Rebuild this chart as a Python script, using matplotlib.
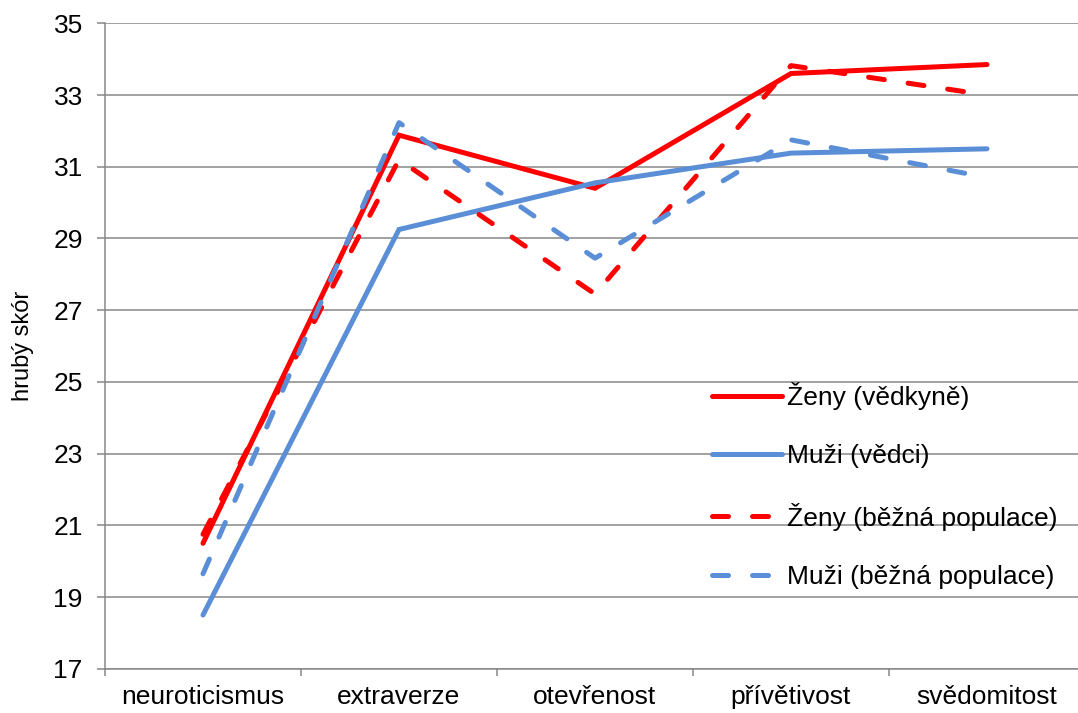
import numpy as np
import matplotlib.pyplot as plt
from matplotlib.ticker import FixedLocator

plt.rcParams['font.family'] = ['Liberation Sans', 'DejaVu Sans']

# data
kategorie = ['neuroticismus', 'extraverze', 'otevřenost', 'přívětivost', 'svědomitost']
zeny_vedkyne = [20.5, 31.88, 30.4, 33.6, 33.85]
muzi_vedci = [18.5, 29.25, 30.55, 31.38, 31.5]
zeny_populace = [20.75, 31.2, 27.45, 33.82, 33.0]
muzi_populace = [19.65, 32.23, 28.45, 31.75, 30.7]

cervena = '#FF0000'
modra = '#5A8ED6'
seda = '#878787'

fig = plt.figure(figsize=(10.78, 7.13), dpi=100)
ax = fig.add_axes([105 / 1078, 1 - 668.8 / 713, 980 / 1078, (668.8 - 23.3) / 713])

x = np.arange(len(kategorie))
ax.plot(x, zeny_vedkyne, color=cervena, lw=3.6, solid_capstyle='round',
        solid_joinstyle='miter', label='Ženy (vědkyně)', zorder=3)
ax.plot(x, muzi_vedci, color=modra, lw=3.6, solid_capstyle='round',
        solid_joinstyle='miter', label='Muži (vědci)', zorder=3)
ax.plot(x, zeny_populace, color=cervena, lw=3.6, dashes=(3.2, 4.8),
        dash_capstyle='round', label='Ženy (běžná populace)', zorder=3)
ax.plot(x, muzi_populace, color=modra, lw=3.6, dashes=(3.2, 4.8),
        dash_capstyle='round', label='Muži (běžná populace)', zorder=3)

ax.set_xlim(-0.5, len(kategorie) - 0.5)
ax.set_ylim(17, 35)
ax.set_yticks(np.arange(17, 36, 2))
ax.set_xticks(x)
ax.set_xticklabels(kategorie, fontsize=19)
ax.xaxis.set_minor_locator(FixedLocator(np.arange(-0.5, len(kategorie), 1)))
ax.tick_params(axis='x', which='major', length=0, pad=12)
ax.tick_params(axis='x', which='minor', length=5, width=1.1, color=seda)
ax.tick_params(axis='y', length=6, width=1.1, color=seda, labelsize=19, pad=10)

ax.yaxis.grid(True, color=seda, lw=1.1)
ax.set_axisbelow(True)
for s in ['top', 'right']:
    ax.spines[s].set_visible(False)
for s in ['left', 'bottom']:
    ax.spines[s].set_color(seda)
    ax.spines[s].set_linewidth(1.1)

ax.set_ylabel('hrubý skór', fontsize=17, labelpad=14)

ax.legend(loc='center left', bbox_to_anchor=(712 / 1078, 1 - 485.5 / 713),
          bbox_transform=fig.transFigure, frameon=False, fontsize=19,
          handlelength=2.65, handletextpad=0.2, labelspacing=1.3,
          borderpad=0, borderaxespad=0)

fig.savefig('out.png', dpi=100)
